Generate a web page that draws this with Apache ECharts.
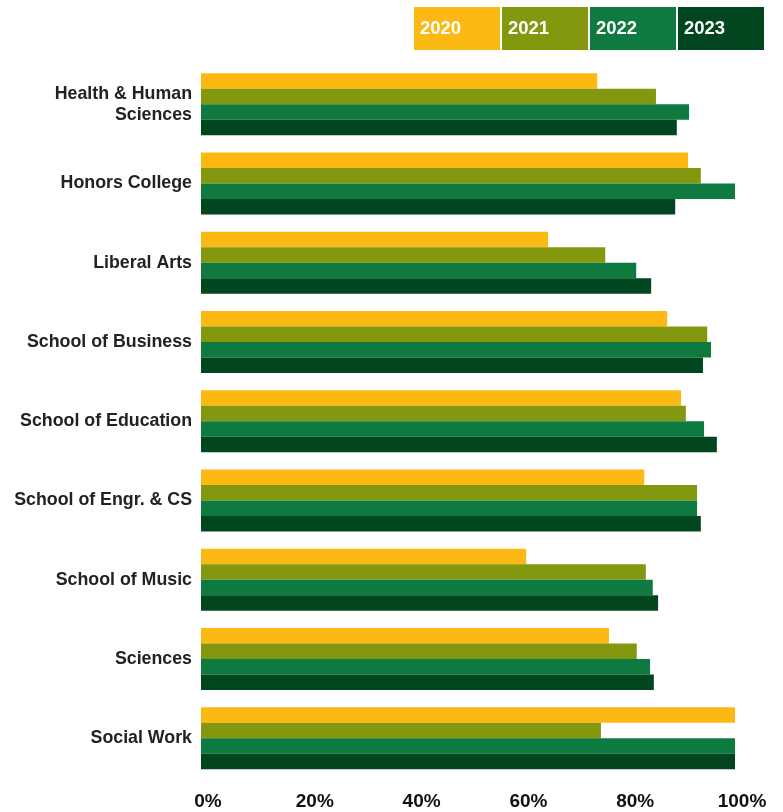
<!DOCTYPE html>
<html>
<head>
<meta charset="utf-8">
<script src="https://cdn.jsdelivr.net/npm/echarts@6/dist/echarts.min.js"></script>
<style>
  html, body { margin: 0; padding: 0; background: #fff; }
  #chart { width: 783px; height: 812px; }
</style>
</head>
<body>
<div id="chart"></div>
<script>
// colleges, top to bottom
const categories = ['Health & Human\nSciences', 'Honors College', 'Liberal Arts', 'School of Business',
  'School of Education', 'School of Engr. & CS', 'School of Music', 'Sciences', 'Social Work']

const years = ['2020', '2021', '2022', '2023']
const colors = ['#FDB913', '#83980F', '#0F7A40', '#024620']

// percent values per year
const y2020 = [74.2, 91.2, 65.0, 87.3, 89.9, 83.0, 60.9, 76.4, 100]
const y2021 = [85.2, 93.6, 75.7, 94.8, 90.8, 92.9, 83.3, 81.6, 74.9]
const y2022 = [91.4, 100, 81.5, 95.5, 94.2, 92.9, 84.6, 84.1, 100]
const y2023 = [89.1, 88.8, 84.3, 94.0, 96.6, 93.6, 85.6, 84.8, 100]

const xTicks = [0, 20, 40, 60, 80, 100]

const seriesData = [y2020, y2021, y2022, y2023]

const chart = echarts.init(document.getElementById('chart'))

chart.setOption({
  animation: false,
  textStyle: { fontFamily: 'Liberation Sans, Arial, sans-serif' },
  legend: {
    left: 409,
    top: 7,
    padding: 0,
    width: 400,
    itemGap: -3,
    itemWidth: 0,
    itemHeight: 0,
    icon: 'none',
    selectedMode: false,
    data: years.map((y, i) => ({
      name: y,
      textStyle: {
        color: '#fff',
        fontWeight: 'bold',
        fontSize: 18.5,
        backgroundColor: colors[i],
        width: 80,
        height: 43,
        lineHeight: 43,
        padding: [0, 0, 0, 6]
      }
    }))
  },
  grid: {
    left: 201,
    right: 48,
    top: 64.5,
    bottom: 34
  },
  xAxis: {
    type: 'value',
    min: 0,
    max: 100,
    interval: 20,
    splitLine: { show: false },
    axisLine: { show: false },
    axisTick: { show: false },
    axisLabel: {
      margin: 14,
      fontSize: 19,
      fontWeight: 'bold',
      color: '#111',
      padding: [0, 0, 0, 14],
      formatter: v => xTicks.includes(v) ? v + '%' : ''
    }
  },
  yAxis: {
    type: 'category',
    inverse: true,
    data: categories,
    axisLine: { show: false },
    axisTick: { show: false },
    axisLabel: {
      margin: 9,
      fontSize: 17.8,
      fontWeight: 'bold',
      color: '#222',
      lineHeight: 21
    }
  },
  series: seriesData.map((d, i) => ({
    name: years[i],
    type: 'bar',
    data: d,
    barGap: 0,
    barCategoryGap: '21.8%',
    itemStyle: { color: colors[i] }
  }))
})
</script>
</body>
</html>
